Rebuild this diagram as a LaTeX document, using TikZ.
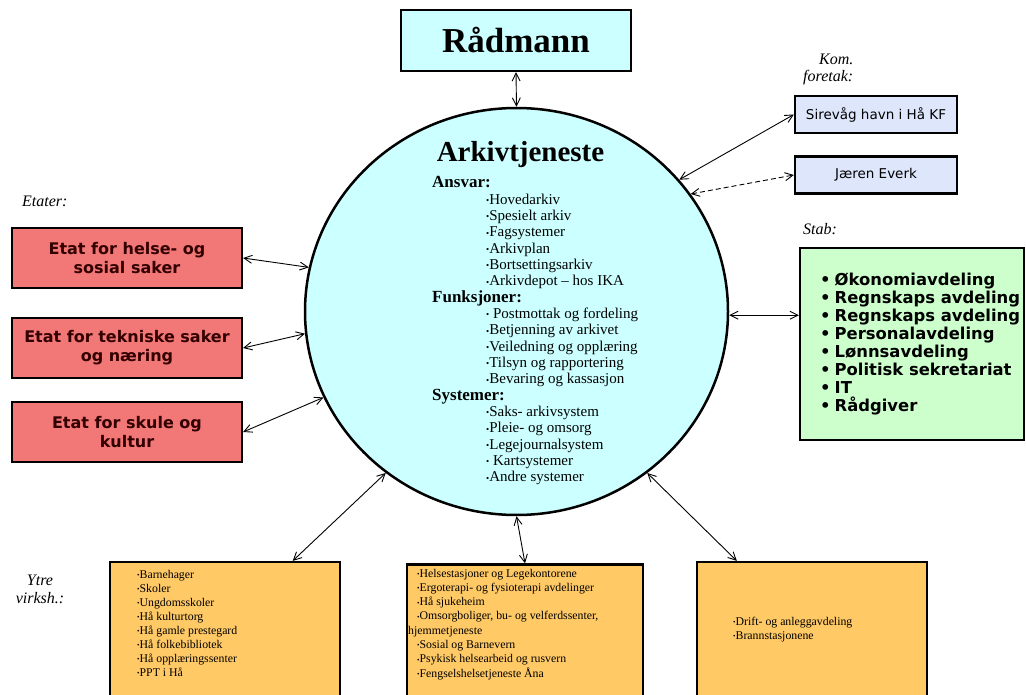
\documentclass[tikz,border=0pt]{standalone}
\usepackage{fontspec}
\usepackage{graphicx}
\setmainfont{Liberation Serif}
\newfontfamily\tahoma{DejaVu Sans}
\usetikzlibrary{shapes.geometric, arrows.meta}

\definecolor{radcyan}{HTML}{CCFFFF}
\definecolor{komblue}{HTML}{DDE6FA}
\definecolor{etatred}{HTML}{F27777}
\definecolor{stabgreen}{HTML}{CCFFCC}
\definecolor{ytreorange}{HTML}{FFC966}
\definecolor{etattext}{HTML}{330000}

\newcommand{\pkt}{\raisebox{0.1ex}{\scalebox{0.6}{\textbullet}}}
\newcommand{\hd}{\bfseries\fontsize{17}{20}\selectfont}

\begin{document}
\begin{tikzpicture}[x=1pt, y=-1pt,
        >={Straight Barb[length=8pt,width=8pt]},
        box/.style={draw=black, line width=2.2pt, inner sep=0pt},
        etat/.style={box, fill=etatred, minimum width=230pt, minimum height=60pt,
            align=center, text=etattext, font=\tahoma\bfseries\fontsize{16}{19}\selectfont},
        kombox/.style={box, fill=komblue, minimum width=162pt, minimum height=37pt,
            font=\tahoma\fontsize{13.5}{16}\selectfont},
        ytre/.style={box, fill=ytreorange, minimum height=138pt},
        arkline/.style={anchor=base west, inner sep=0pt, font=\fontsize{15}{17}\selectfont},
        ytreline/.style={anchor=base west, inner sep=0pt, font=\fontsize{11.8}{14}\selectfont},
        stabline/.style={anchor=base west, inner sep=0pt, font=\tahoma\bfseries\fontsize{16.4}{18}\selectfont},
        lbl/.style={anchor=base west, inner sep=0pt, font=\itshape\fontsize{16}{19}\selectfont},
        link/.style={<->, line width=0.9pt}]

        \useasboundingbox (0,0) rectangle (1026,695);

        % midten
        \node[box, fill=radcyan, minimum width=230pt, minimum height=61pt,
            font=\bfseries\fontsize{35}{40}\selectfont] (rad) at (516,40.5) {Rådmann};
        \node[draw=black, ellipse, line width=2.5pt, fill=radcyan, minimum width=423pt,
            minimum height=407pt, inner sep=0pt] (ark) at (516.5,311.5) {};
        \node[anchor=base, inner sep=0pt, font=\bfseries\fontsize{29}{34}\selectfont]
            (arktitle) at (520.5,162) {Arkivtjeneste};
        \foreach \dx/\txt [count=\i from 0] in {0/{\hd Ansvar:}, 54/{\pkt Hovedarkiv},
                54/{\pkt Spesielt arkiv}, 54/{\pkt Fagsystemer}, 54/{\pkt Arkivplan},
                54/{\pkt Bortsettingsarkiv}, 54/{\pkt Arkivdepot – hos IKA},
                0/{\hd Funksjoner:}, 54/{\pkt\ Postmottak og fordeling},
                54/{\pkt Betjenning av arkivet}, 54/{\pkt Veiledning og opplæring},
                54/{\pkt Tilsyn og rapportering}, 54/{\pkt Bevaring og kassasjon},
                0/{\hd Systemer:}, 54/{\pkt Saks- arkivsystem}, 54/{\pkt Pleie- og omsorg},
                54/{\pkt Legejournalsystem}, 54/{\pkt\ Kartsystemer}, 54/{\pkt Andre systemer}}
            \node[arkline] (arkl\i) at (432+\dx, 188+16.33*\i) {\txt};

        % kom. foretak og stab
        \node[lbl] (kom1) at (819,65) {Kom.};
        \node[lbl] (kom2) at (803,82) {foretak:};
        \node[kombox] (sirevag) at (876,114.5) {Sirevåg havn i Hå KF};
        \node[kombox] (jaren) at (876,175) {Jæren Everk};
        \node[lbl] (stablbl) at (803,235) {Stab:};
        \node[box, fill=stabgreen, minimum width=224pt, minimum height=192pt] (stab) at (912,344) {};
        \foreach \txt [count=\i from 0] in {Økonomiavdeling, Regnskaps avdeling,
                Regnskaps avdeling, Personalavdeling, Lønnsavdeling,
                Politisk sekretariat, IT, Rådgiver}
            \node[stabline] (stabl\i) at (820, 286+17.86*\i) {\textbullet\hspace*{4pt}\txt};

        % etater
        \node[lbl] (etaterlbl) at (22,207) {Etater:};
        \node[etat] (etat1) at (127,258) {Etat for helse- og\\sosial saker};
        \node[etat] (etat2) at (127,348) {Etat for tekniske saker\\og næring};
        \node[etat] (etat3) at (127,432) {Etat for skule og\\kultur};

        % ytre virksomheter
        \node[lbl, anchor=base] (ytrelbl1) at (40,585) {Ytre};
        \node[lbl, anchor=base] (ytrelbl2) at (40,603) {virksh.:};
        \node[ytre, minimum width=230pt] (ytre1) at (225,631) {};
        \node[ytre, minimum width=236pt] (ytre2) at (525,633.5) {};
        \node[ytre, minimum width=230pt] (ytre3) at (812,631) {};
        \foreach \txt [count=\i from 0] in {Barnehager, Skoler, Ungdomsskoler,
                Hå kulturtorg, Hå gamle prestegard, Hå folkebibliotek,
                Hå opplæringssenter, PPT i Hå}
            \node[ytreline] (ytrea\i) at (137, 578+14*\i) {\pkt\txt};
        \foreach \dx/\txt [count=\i from 0] in {9/{\pkt Helsestasjoner og Legekontorene},
                9/{\pkt Ergoterapi- og fysioterapi avdelinger}, 9/{\pkt Hå sjukeheim},
                9/{\pkt Omsorgboliger, bu- og velferdssenter,}, 0/{hjemmetjeneste},
                9/{\pkt Sosial og Barnevern}, 9/{\pkt Psykisk helsearbeid og rusvern},
                9/{\pkt Fengselshelsetjeneste Åna}}
            \node[ytreline] (ytreb\i) at (408+\dx, 577+14.3*\i) {\txt};
        \node[ytreline] (ytrec0) at (733,625) {\pkt Drift- og anleggavdeling};
        \node[ytreline] (ytrec1) at (733,639) {\pkt Brannstasjonene};

        % piler
        \draw[link] (rad.south) -- (ark.north);
        \draw[link] (ark.39) -- (sirevag.west);
        \draw[link, dash pattern=on 5pt off 3pt] (ark.34) -- (jaren.west);
        \draw[link] (ark.359) -- (ark.359 -| stab.west);
        \draw[link] (ark.168) -- (etat1.east);
        \draw[link] (ark.186) -- (etat2.east);
        \draw[link] (ark.204) -- (etat3.east);
        \draw[link] (ark.231) -- (ytre1.46);
        \draw[link] (ark.270) -- (ytre2.north);
        \draw[link] (ark.309) -- (ytre3.137);
\end{tikzpicture}
\end{document}
